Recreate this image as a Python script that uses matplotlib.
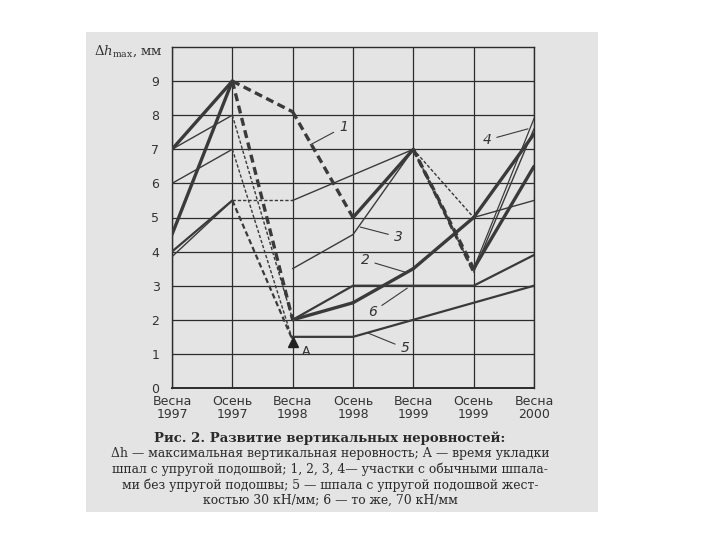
import matplotlib.pyplot as plt
from matplotlib.patches import Rectangle

# seasons on the x axis
seasons = ['Весна\n1997', 'Осень\n1997', 'Весна\n1998', 'Осень\n1998',
           'Весна\n1999', 'Осень\n1999', 'Весна\n2000']
y_ticks = ['0', '1', '2', '3', '4', '5', '6', '7', '8', '9']

# 1 - ordinary sleepers
s1_x = [0, 1, 2, 3, 4, 5, 6]
s1_y = [7, 9, 8.1, 5, 7, 3.5, 6.5]
s1_dash = [0, 1, 1, 0, 1, 0]

# 2 - ordinary sleepers
s2_x = [0, 1, 2, 3, 4, 5, 6]
s2_y = [4.5, 9, 2, 2.5, 3.5, 5, 7.45]
s2_dash = [0, 1, 0, 0, 0, 0]

# 3 - ordinary sleepers (gap between autumn 1997 and spring 1998)
s3a_x, s3a_y = [0, 1, 2], [7, 8, 2]
s3b_x, s3b_y = [2, 3, 4, 5, 6], [3.5, 4.5, 7, 3.4, 7.6]
s3_dash = [0, 1]
s3b_dash = [0, 0, 1, 0]

# 4 - ordinary sleepers
s4_x = [0, 1, 2, 4, 5, 6]
s4_y = [3.85, 5.5, 5.5, 7, 5, 5.5]
s4_dash = [0, 1, 0, 1, 0]

# other thin lines
s7_x, s7_y = [0, 1, 2], [6, 7, 1.4]
s7_dash = [0, 1]
s8_x, s8_y = [5, 6], [3.5, 7.9]

# 5 - elastic pad 30 kN/mm
s5a_x, s5a_y = [0, 1, 2], [4, 5.5, 1.4]
s5a_dash = [0, 1]
s5_x, s5_y = [2, 3, 6], [1.5, 1.5, 3]

# 6 - elastic pad 70 kN/mm
s6_x, s6_y = [2, 3, 4, 5, 6], [2, 3, 3, 3, 3.9]

# time of laying (A)
a_x, a_y = 2, 1.35

plt.rcParams['mathtext.fontset'] = 'custom'
plt.rcParams['mathtext.rm'] = 'DejaVu Serif'
plt.rcParams['mathtext.it'] = 'DejaVu Serif:italic'

ink = '#3a3a3a'
fig = plt.figure(figsize=(7.2, 5.4), dpi=100)
fig.patch.set_facecolor('white')
fig.patches.append(Rectangle((86 / 720, 1 - 512 / 540), 512 / 720, 480 / 540,
                             transform=fig.transFigure, facecolor='#e4e4e4',
                             edgecolor='none', zorder=-5))

ax = fig.add_axes([172 / 720, 1 - 388 / 540, 362 / 720, 341 / 540])
ax.set_facecolor('none')
ax.set_zorder(2)


def draw(xs, ys, dash, lw):
    # one segment at a time: solid or dashed
    for i in range(len(xs) - 1):
        ls = (0, (2.4, 1.4)) if dash[i] else '-'
        ax.plot(xs[i:i + 2], ys[i:i + 2], color=ink, lw=lw, ls=ls,
                solid_capstyle='round', zorder=3)


draw(s1_x, s1_y, s1_dash, 2.4)
draw(s2_x, s2_y, s2_dash, 2.4)
draw(s3a_x, s3a_y, s3_dash, 1.0)
draw(s3b_x, s3b_y, s3b_dash, 1.0)
ax.plot(s3b_x[2:4], s3b_y[2:4], color=ink, lw=2.2, ls=(0, (2.4, 1.4)), zorder=3)
draw(s4_x, s4_y, s4_dash, 1.0)
draw(s7_x, s7_y, s7_dash, 1.0)
ax.plot(s8_x, s8_y, color=ink, lw=0.9, zorder=3)
draw(s5a_x, s5a_y, s5a_dash, 1.6)
ax.plot(s5_x, s5_y, color=ink, lw=1.6, zorder=3)
ax.plot(s6_x, s6_y, color=ink, lw=1.6, zorder=3)
ax.plot(a_x, a_y, marker='^', color='#222222', ms=7, zorder=4, clip_on=False)

ax.set_xlim(0, 6)
ax.set_ylim(0, 10)
ax.set_xticks(range(len(seasons)))
ax.set_xticklabels(seasons, fontsize=9, color='#333333', linespacing=1.0)
ax.set_yticks(range(len(y_ticks)))
ax.set_yticklabels(y_ticks, fontsize=9, color='#333333')
ax.tick_params(length=0)
ax.tick_params(axis='x', pad=5)
ax.tick_params(axis='y', pad=9)
ax.grid(True, color='#2c2c2c', lw=0.9)
for sp in ax.spines.values():
    sp.set_color('#2c2c2c')
    sp.set_linewidth(1.0)
ax.spines['bottom'].set_linewidth(1.4)

# curve labels
labels = [('1', (2.84, 7.65), (2.29, 7.13)), ('4', (5.22, 7.27), (5.9, 7.6)),
          ('3', (3.75, 4.43), (3.12, 4.72)), ('2', (3.2, 3.75), (3.86, 3.4)),
          ('6', (3.32, 2.23), (3.9, 2.93)), ('5', (3.86, 1.17), (3.25, 1.61))]
for txt, pos, end in labels:
    ax.annotate(txt, xy=end, xytext=pos, fontsize=10, style='italic',
                color='#333333', ha='center', va='center',
                arrowprops=dict(arrowstyle='-', lw=0.8, color=ink,
                                shrinkA=2, shrinkB=0))
ax.text(2.22, 1.06, 'A', fontsize=9, color='#333333', ha='center', va='center')

fig.text(163 / 720, 1 - 51 / 540, r'$\mathit{\Delta h}_{\mathrm{max}}$, мм',
         fontsize=9.5, color='#333333', ha='right', va='center',
         family='DejaVu Serif')

# caption
fig.text(330 / 720, 1 - 438 / 540, 'Рис. 2. Развитие вертикальных неровностей:',
         fontsize=9.5, weight='bold', family='DejaVu Serif', color='#2a2a2a',
         ha='center', va='center')
caption = ['Δh — максимальная вертикальная неровность; А — время укладки',
           'шпал с упругой подошвой; 1, 2, 3, 4— участки с обычными шпала-',
           'ми без упругой подошвы; 5 — шпала с упругой подошвой жест-',
           'костью 30 кН/мм; 6 — то же, 70 кН/мм']
for i, line in enumerate(caption):
    fig.text(330 / 720, 1 - (454 + 15.5 * i) / 540, line, fontsize=8.9,
             family='DejaVu Serif', color='#2a2a2a', ha='center', va='center')

fig.savefig('out.png', dpi=100)
